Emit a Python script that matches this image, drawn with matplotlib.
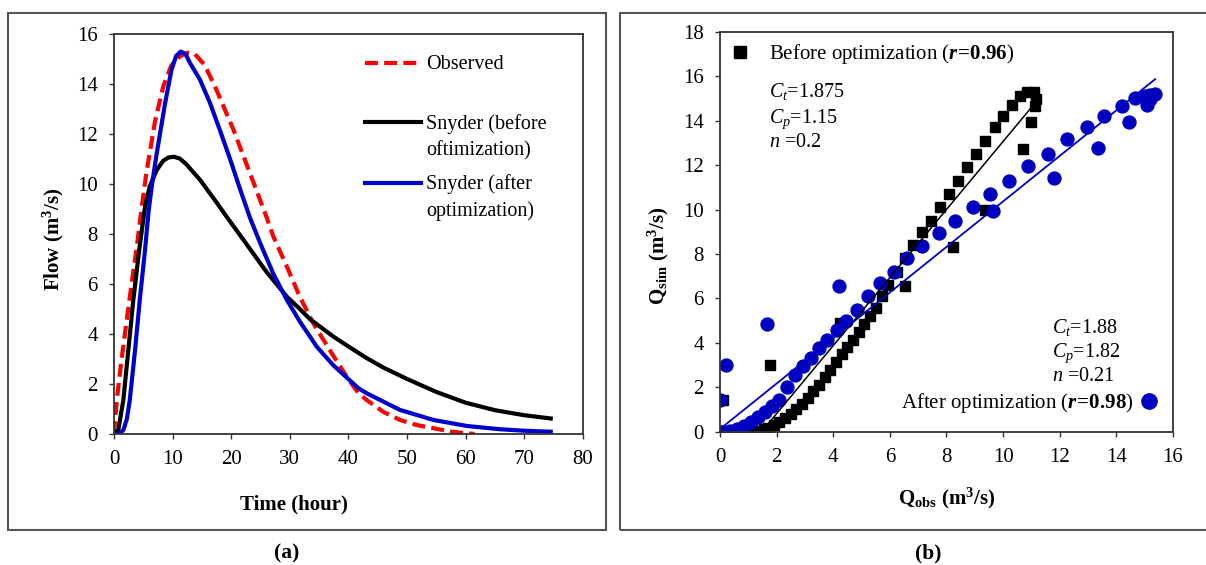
import matplotlib.pyplot as plt
from matplotlib.patches import Rectangle
import numpy as np

plt.rcParams['font.family'] = ['Liberation Serif', 'DejaVu Serif']
plt.rcParams['mathtext.fontset'] = 'custom'
plt.rcParams['mathtext.rm'] = 'Liberation Serif'
plt.rcParams['mathtext.it'] = 'Liberation Serif:italic'
plt.rcParams['mathtext.bf'] = 'Liberation Serif:bold'
plt.rcParams['mathtext.bfit'] = 'Liberation Serif:italic:bold'

# ---- (a) hydrographs ----
obs_t = [0, 0.5, 1.3, 2.2, 3.0, 3.9, 4.7, 5.5, 7.0, 8.4, 9.8, 11.3, 12.6, 13.8, 15.5, 17.5,
         20.4, 23.2, 26.0, 27.2, 29.5, 31.7, 34.0, 36.8, 39.7, 41.7, 43.1, 45.9, 48.8,
         51.6, 54.5, 57.3, 60.0, 61.5]
obs_q = [0, 1.4, 3.0, 4.6, 6.0, 7.5, 9.0, 10.4, 12.5, 13.9, 14.75, 15.12, 15.25, 15.2, 14.75, 13.76,
         12.16, 10.43, 8.69, 7.89, 6.69, 5.49, 4.43, 3.36, 2.29, 1.63, 1.36, 0.89, 0.56,
         0.36, 0.23, 0.1, 0.03, 0.0]

before_t = [0, 0.74, 1.6, 2.45, 3.3, 4.3, 5.3, 6.1, 7.3, 8.4, 9.3, 10.2, 11.2, 12.3, 14.7, 17.2,
            19.5, 22.1, 26.0, 29.5, 31.7, 33.4, 37.4, 40.0, 43.0, 46.0, 50.0, 55.0,
            60.0, 65.0, 70.0, 74.5]
before_q = [0, 0.16, 1.36, 3.36, 5.36, 7.36, 9.1, 9.9, 10.56, 10.93, 11.06, 11.09, 11.02, 10.8, 10.16, 9.36,
            8.6, 7.76, 6.49, 5.49, 5.0, 4.6, 3.9, 3.5, 3.05, 2.65, 2.2, 1.68,
            1.25, 0.95, 0.75, 0.62]

after_t = [0, 1.0, 1.6, 2.2, 2.7, 3.6, 4.4, 5.3, 5.9, 6.5, 7.3, 8.7, 9.8, 10.6, 11.4, 12.2, 13.0,
           14.7, 16.4, 18.0, 19.8, 21.5, 23.2, 25.0, 27.2, 29.5, 31.7, 34.6, 37.4, 41.7,
           43.1, 48.8, 54.5, 60.2, 65.8, 70.0, 74.5]
after_q = [0, 0.02, 0.16, 0.6, 1.36, 3.36, 5.36, 7.36, 8.9, 10.0, 11.23, 13.2, 14.56, 15.12, 15.3, 15.2, 14.83,
           14.16, 13.23, 12.2, 11.0, 9.8, 8.65, 7.6, 6.4, 5.36, 4.5, 3.49, 2.75, 1.83,
           1.63, 0.96, 0.56, 0.32, 0.19, 0.13, 0.09]

# ---- (b) Qobs vs Qsim scatter ----
sq_obs = [1.25, 1.4, 1.55, 1.7, 1.9, 2.1, 2.3, 2.5, 2.7, 2.9, 3.1, 3.3, 3.5, 3.7, 3.9, 4.1,
          4.3, 4.5, 4.7, 4.9, 5.1, 5.3, 5.5, 5.72, 5.95, 6.24, 6.54, 6.83, 7.13, 7.44, 7.76,
          8.08, 8.4, 8.73, 9.06, 9.37, 9.7, 10.0, 10.3, 10.58, 10.85, 11.08,
          11.15, 11.12, 11.0, 10.72, 9.35, 8.22, 6.55, 4.23, 1.77, 0.12]
sq_sim = [0.0, 0.04, 0.1, 0.18, 0.3, 0.45, 0.62, 0.82, 1.02, 1.25, 1.52, 1.82, 2.12, 2.45, 2.78, 3.12,
          3.48, 3.82, 4.15, 4.5, 4.85, 5.2, 5.55, 6.1, 6.6, 7.17, 7.8, 8.4, 9.0, 9.5, 10.1,
          10.7, 11.3, 11.9, 12.5, 13.1, 13.7, 14.2, 14.7, 15.1, 15.3, 15.3,
          15.0, 14.68, 13.96, 12.75, 10.0, 8.3, 6.56, 4.9, 3.02, 1.44]

ci_obs = [0.0, 0.12, 0.35, 0.6, 0.85, 1.1, 1.35, 1.6, 1.85, 2.1, 2.38, 2.66, 2.93, 3.2, 3.48,
          3.79, 4.12, 4.46, 4.84, 5.23, 5.65, 6.15, 6.62, 7.13, 7.72, 8.3, 8.92, 9.54, 10.22,
          10.89, 11.6, 12.27, 12.96, 13.58, 14.19, 14.66, 15.0, 15.2, 15.37,
          15.13, 15.2, 15.08, 14.45, 13.37, 11.8, 9.66, 4.22, 1.65, 0.2, 0.0]
ci_sim = [0.0, 0.0, 0.02, 0.1, 0.25, 0.42, 0.65, 0.9, 1.15, 1.45, 2.0, 2.56, 2.94, 3.32, 3.77,
          4.15, 4.6, 4.98, 5.48, 6.11, 6.68, 7.2, 7.8, 8.37, 8.95, 9.5, 10.13, 10.71, 11.31,
          11.96, 12.52, 13.17, 13.7, 14.22, 14.68, 15.04, 15.1, 15.15, 15.21,
          15.06, 15.0, 14.71, 13.95, 12.79, 11.42, 9.95, 6.56, 4.83, 3.02, 1.43]

# trendlines (slope, intercept) as drawn in the figure
before_fit = (1.532, -2.25)
after_fit = (1.025, 0.12)

spine_c = '#333333'


def style(ax):
    for s in ax.spines.values():
        s.set_color(spine_c)
        s.set_linewidth(1.3)
    ax.tick_params(direction='out', length=3.6, width=1.0, color=spine_c,
                   labelsize=15, pad=8, top=False, right=False)


fig = plt.figure(figsize=(12.06, 5.65), dpi=100)

# panel frames
fig.patches.append(Rectangle((0.0066, 0.0619), 0.4959, 0.915, transform=fig.transFigure,
                             fill=False, ec='#555555', lw=1.5))
fig.patches.append(Rectangle((0.5141, 0.0619), 0.49, 0.915, transform=fig.transFigure,
                             fill=False, ec='#555555', lw=1.5))

# ---------------- (a) ----------------
ax1 = fig.add_axes([0.0945, 0.2319, 0.3889, 0.7079])
ax1.plot(obs_t, obs_q, color='#FF0000', ls=(0, (3.1, 1.5)), lw=3, label='Observed\n ')
ax1.plot(before_t, before_q, color='black', lw=3, label='Snyder (before\noftimization)')
ax1.plot(after_t, after_q, color='#0000CC', lw=3, label='Snyder (after\noptimization)')
ax1.set_xlim(0, 80)
ax1.set_ylim(0, 16)
ax1.set_xticks(np.arange(0, 81, 10))
ax1.set_yticks(np.arange(0, 17, 2))
style(ax1)
ax1.set_xlabel('Time (hour)', fontsize=15, fontweight='bold')
ax1.xaxis.set_label_coords(0.384, -0.1525)
ax1.set_ylabel(r'Flow (m$^{\mathbf{3}}$/s)', fontsize=15, fontweight='bold')
ax1.yaxis.set_label_coords(-0.1023, 0.4875)

leg = ax1.legend(loc='upper left', bbox_to_anchor=(0.535, 0.948), frameon=False,
                 fontsize=14.5, handlelength=2.78, handletextpad=0.25,
                 labelspacing=0.69, borderpad=0, borderaxespad=0)
for t in leg.get_texts():
    t.set_linespacing(1.5)
for h in leg.legend_handles:
    h.set_ydata(np.asarray(h.get_ydata()) + 10.6)

# ---------------- (b) ----------------
ax2 = fig.add_axes([0.597, 0.2359, 0.3756, 0.7075])
ax2.plot(sq_obs, sq_sim, 's', color='black', ms=7.3, ls='none')
ax2.plot(ci_obs, ci_sim, 'o', color='#0000C0', ms=9.3, ls='none')
xb = np.linspace(0, max(sq_obs), 50)
ax2.plot(xb, before_fit[0] * xb + before_fit[1], color='black', lw=1.1)
xa = np.linspace(0, max(ci_obs), 50)
ax2.plot(xa, after_fit[0] * xa + after_fit[1], color='#0000C0', lw=1.3)
ax2.set_xlim(0, 16)
ax2.set_ylim(0, 18)
ax2.set_xticks(np.arange(0, 17, 2))
ax2.set_yticks(np.arange(0, 19, 2))
style(ax2)
ax2.set_xlabel(r'$\mathbf{Q_{obs}}$ (m$^{\mathbf{3}}$/s)', fontsize=15, fontweight='bold')
ax2.xaxis.set_label_coords(0.5, -0.135)
ax2.set_ylabel(r'$\mathbf{Q_{sim}}$ (m$^{\mathbf{3}}$/s)', fontsize=15, fontweight='bold')
ax2.yaxis.set_label_coords(-0.108, 0.44)

h_sq, = ax2.plot([], [], 's', color='black', ms=8.5)
h_ci, = ax2.plot([], [], 'o', color='#0000C0', ms=11)
leg1 = ax2.legend([h_sq], [r'Before optimization ($\mathbfit{r}\!\mathbf{=}\!\mathbf{0.96}$)'],
                  loc='upper left', bbox_to_anchor=(0.0205, 0.975), frameon=False,
                  fontsize=15, handlelength=1.0, handletextpad=0.9,
                  borderpad=0, borderaxespad=0)
ax2.add_artist(leg1)
ax2.legend([h_ci], [r'After optimization ($\mathbfit{r}\!\mathbf{=}\!\mathbf{0.98}$)'],
           loc='lower right', bbox_to_anchor=(0.9706, 0.042), frameon=False,
           fontsize=15, handlelength=1.0, handletextpad=0.27, markerfirst=False,
           borderpad=0, borderaxespad=0)

ax2.text(0.108, 0.837, r'$C_t$=1.875', transform=ax2.transAxes, fontsize=14.5, va='baseline')
ax2.text(0.108, 0.773, r'$C_p$=1.15', transform=ax2.transAxes, fontsize=14.5, va='baseline')
ax2.text(0.108, 0.713, r'$n$ =0.2', transform=ax2.transAxes, fontsize=14.5, va='baseline')
ax2.text(0.732, 0.246, r'$C_t$=1.88', transform=ax2.transAxes, fontsize=14.5, va='baseline')
ax2.text(0.732, 0.186, r'$C_p$=1.82', transform=ax2.transAxes, fontsize=14.5, va='baseline')
ax2.text(0.732, 0.1275, r'$n$ =0.21', transform=ax2.transAxes, fontsize=14.5, va='baseline')

fig.text(0.238, 0.0195, '(a)', fontsize=15.5, fontweight='bold', ha='center', va='center')
fig.text(0.7695, 0.0195, '(b)', fontsize=15.5, fontweight='bold', ha='center', va='center')

fig.savefig('out.png', dpi=100)
